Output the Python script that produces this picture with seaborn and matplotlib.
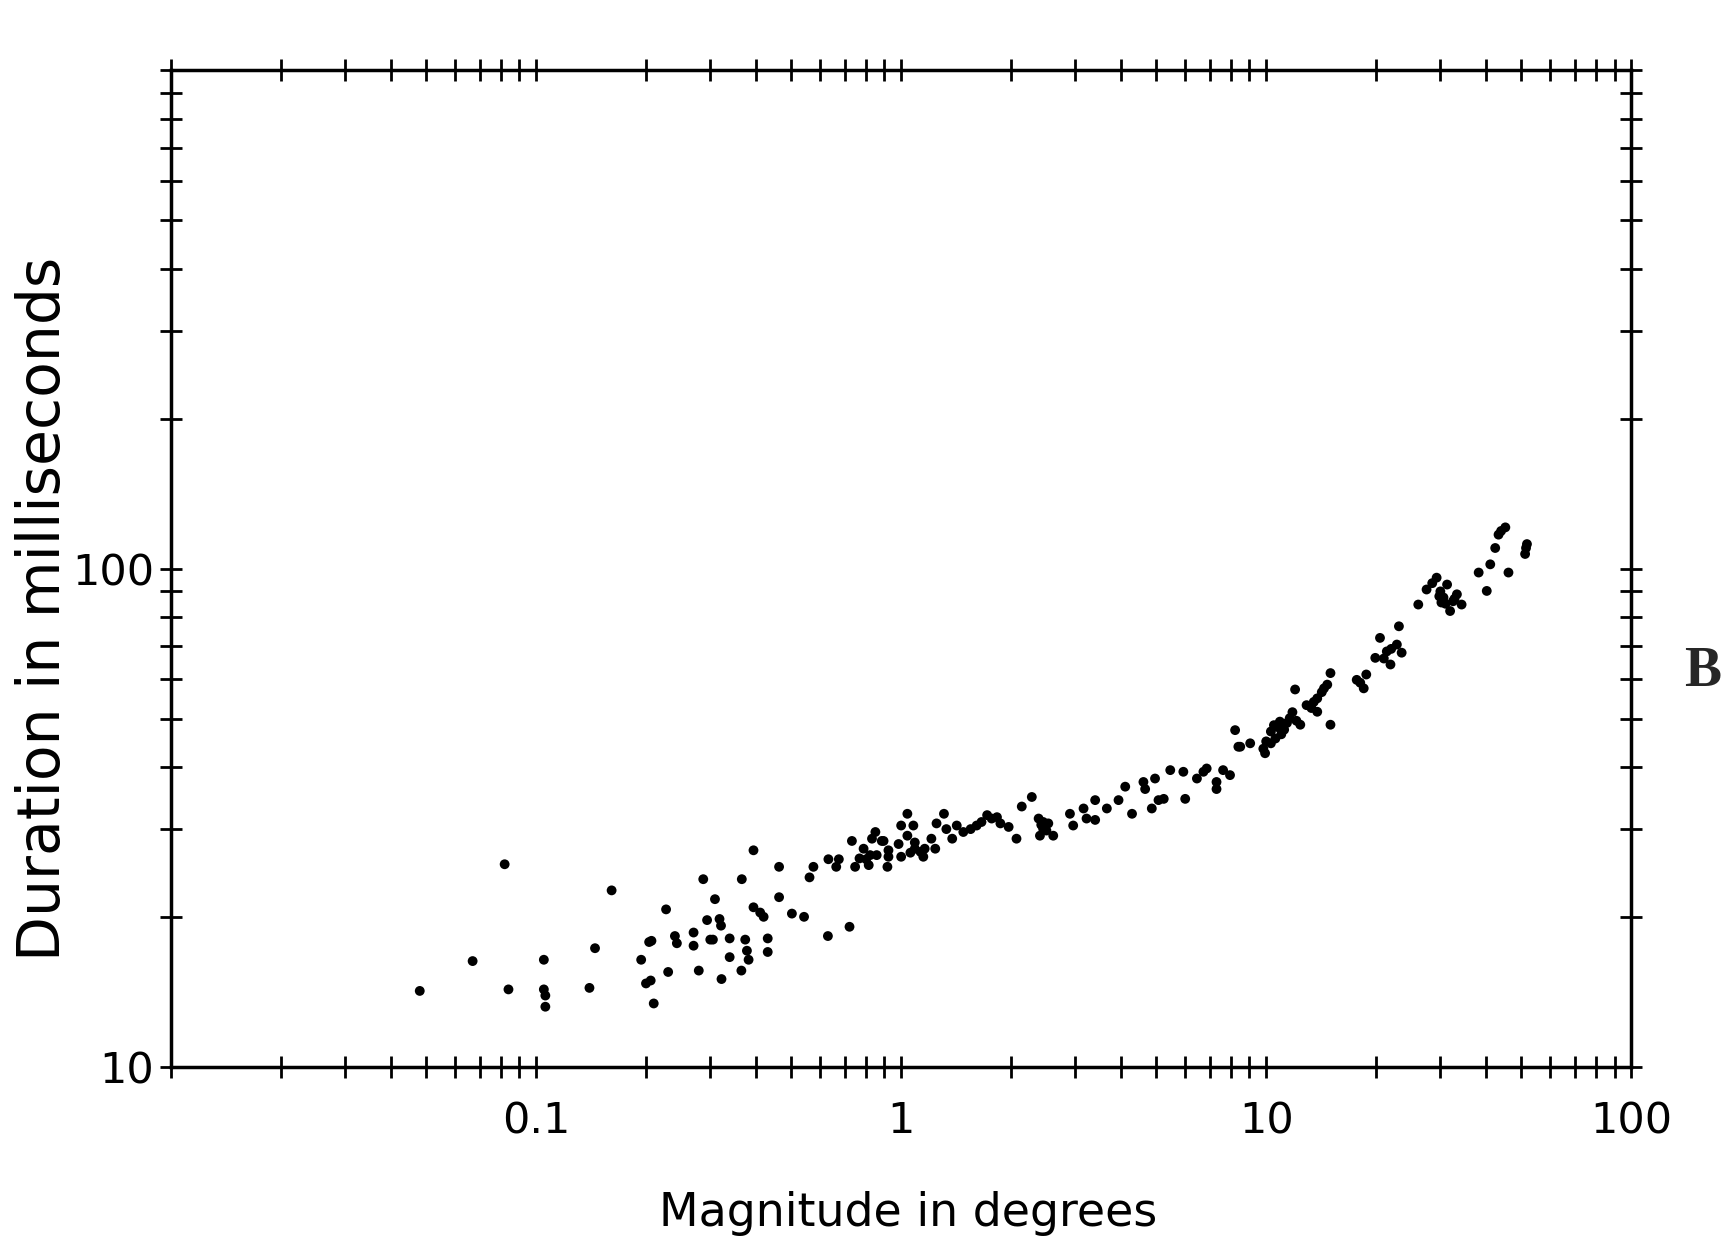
import numpy as np
import pandas as pd
import seaborn as sns
from matplotlib import pyplot as plt
from matplotlib import ticker

# saccade magnitude (deg) vs duration (ms)
magnitude_deg = [
    0.048, 0.067, 0.082, 0.084, 0.105, 0.105, 0.106, 0.106, 0.140, 0.145,
    0.161, 0.194, 0.207, 0.204, 0.206, 0.200, 0.210, 0.227, 0.230, 0.243,
    0.240, 0.270, 0.270, 0.279, 0.287, 0.294, 0.300, 0.305, 0.309, 0.318,
    0.321, 0.322, 0.339, 0.339, 0.366, 0.365, 0.374, 0.378, 0.382, 0.394,
    0.394, 0.411, 0.420, 0.431, 0.431, 0.463, 0.463, 0.502, 0.542, 0.561,
    0.575, 0.632, 0.630, 0.675, 0.664, 0.722, 0.733, 0.748, 0.789, 0.802,
    0.832, 0.850, 0.885, 0.857, 0.923, 0.923, 0.984, 1.00, 1.04, 1.08,
    1.09, 0.769, 0.822, 0.815, 0.895, 0.917, 1.00, 1.04, 1.06, 1.09,
    1.13, 1.16, 1.21, 1.24, 1.15, 1.25, 1.31, 1.33, 1.38, 1.42,
    1.48, 1.55, 1.61, 1.66, 1.72, 1.77, 1.83, 1.87, 1.97, 2.07,
    2.14, 2.28, 2.38, 2.45, 2.53, 2.40, 2.45, 2.50, 2.61, 2.90,
    2.96, 3.16, 3.22, 3.40, 3.40, 3.66, 3.94, 4.11, 4.29, 4.61,
    4.66, 4.96, 4.86, 5.07, 5.24, 5.46, 5.93, 6.00, 6.46, 6.73,
    6.87, 7.31, 7.62, 7.96, 7.31, 8.49, 9.04, 9.82, 10.3, 9.93,
    8.22, 8.39, 10.3, 10.9, 11.6, 12.4, 10.6, 10.0, 11.2, 10.5,
    11.8, 11.0, 12.0, 12.9, 13.8, 14.7, 15.0, 13.8, 14.2, 13.3,
    15.0, 17.7, 18.8, 18.5, 18.1, 19.9, 20.5, 21.4, 21.9, 22.8,
    23.5, 21.0, 22.0, 23.1, 26.1, 27.5, 29.3, 30.6, 31.9, 33.3,
    34.3, 31.3, 28.5, 32.5, 30.0, 31.0, 38.2, 40.2, 41.1, 42.4,
    43.3, 45.2, 46.1, 44.0, 51.8, 51.2, 51.5,
    2.42, 2.48, 10.8, 11.4, 12.1, 13.5, 14.4, 29.8, 32.8, 30.2,
]
duration_ms = [
    14.2, 16.3, 25.5, 14.3, 16.4, 14.3, 13.9, 13.2, 14.4, 17.3,
    22.6, 16.4, 17.9, 17.8, 14.9, 14.7, 13.4, 20.7, 15.5, 17.7,
    18.3, 18.6, 17.5, 15.6, 23.8, 19.7, 18.0, 18.0, 21.7, 19.8,
    19.2, 15.0, 18.1, 16.6, 23.8, 15.6, 18.0, 17.1, 16.4, 27.2,
    20.9, 20.4, 20.0, 18.1, 17.0, 25.2, 21.9, 20.3, 20.0, 24.0,
    25.2, 26.1, 18.3, 26.1, 25.2, 19.1, 28.4, 25.2, 27.4, 26.1,
    28.7, 29.6, 28.4, 26.6, 27.2, 26.4, 28.0, 30.5, 32.2, 30.5,
    27.4, 26.2, 26.6, 25.4, 28.4, 25.2, 26.4, 29.1, 26.9, 28.2,
    27.0, 27.4, 28.7, 27.4, 26.4, 30.8, 32.2, 30.0, 28.7, 30.5,
    29.6, 30.0, 30.5, 31.0, 32.0, 31.5, 31.7, 30.8, 30.3, 28.7,
    33.3, 34.8, 31.5, 30.0, 30.8, 29.1, 31.0, 29.8, 29.1, 32.2,
    30.5, 33.0, 31.5, 34.3, 31.3, 33.0, 34.3, 36.5, 32.2, 37.3,
    36.1, 37.9, 33.0, 34.3, 34.5, 39.4, 39.1, 34.5, 37.9, 39.1,
    39.7, 37.3, 39.4, 38.5, 36.1, 43.9, 44.6, 43.5, 44.6, 42.6,
    47.4, 43.9, 47.1, 49.3, 50.1, 48.6, 45.6, 45.0, 47.5, 48.5,
    51.5, 46.5, 57.2, 53.2, 54.9, 58.5, 61.7, 51.6, 56.5, 52.5,
    48.6, 59.8, 61.3, 57.5, 59.0, 66.2, 72.6, 68.2, 64.2, 70.4,
    67.8, 66.0, 69.0, 76.6, 84.7, 90.8, 95.9, 87.5, 82.2, 88.8,
    84.7, 92.9, 93.5, 86.0, 90.0, 85.0, 98.2, 90.2, 102, 110,
    117, 121, 98.2, 119, 112, 107, 110,
    30.6, 30.2, 48.0, 49.0, 49.5, 54.0, 57.5, 88.0, 87.0, 85.5,
]

x_major = [0.01, 0.1, 1, 10, 100]
x_major_labels = ["", "0.1", "1", "10", "100"]
y_major = [10, 100, 1000]
y_major_labels = ["10", "100", ""]

df = pd.DataFrame({"magnitude": magnitude_deg, "duration": duration_ms})

sns.set_theme(style="white")
plt.rcParams["font.family"] = ["DejaVu Sans"]

fig = plt.figure(figsize=(17.28, 12.58), dpi=100)
ax = fig.add_axes([0.099, 0.152, 0.845, 0.792])

sns.scatterplot(data=df, x="magnitude", y="duration", ax=ax,
                color="black", s=50, edgecolor="none", linewidth=0)

ax.set_xscale("log")
ax.set_yscale("log")
ax.set_xlim(0.01, 100)
ax.set_ylim(10, 1000)

ax.set_xticks(x_major, x_major_labels)
ax.set_yticks(y_major, y_major_labels)
ax.xaxis.set_minor_locator(ticker.LogLocator(base=10, subs=np.arange(2, 10)))
ax.yaxis.set_minor_locator(ticker.LogLocator(base=10, subs=np.arange(2, 10)))
ax.xaxis.set_minor_formatter(ticker.NullFormatter())
ax.yaxis.set_minor_formatter(ticker.NullFormatter())

ax.tick_params(which="both", direction="inout", bottom=True, left=True,
               top=True, right=True, length=16, width=2, color="black")
ax.tick_params(axis="x", which="major", pad=16)
ax.tick_params(axis="y", which="major", pad=4)
for lab in ax.get_xticklabels() + ax.get_yticklabels():
    lab.set_fontsize(31)
    lab.set_color("black")

for spine in ax.spines.values():
    spine.set_visible(True)
    spine.set_linewidth(2.5)
    spine.set_color("black")

ax.set_xlabel("Magnitude in degrees", fontsize=33, color="black")
ax.set_ylabel("Duration in milliseconds", fontsize=42, color="black")
ax.xaxis.set_label_coords(0.505, -0.125)
ax.yaxis.set_label_coords(-0.068, 0.46)

fig.text(1703 / 1728, 1 - 672 / 1258, "B", fontsize=40, fontweight="bold",
         family=["Liberation Serif", "DejaVu Serif"], ha="center", va="center")

fig.savefig("out.png", dpi=100, facecolor="white")
